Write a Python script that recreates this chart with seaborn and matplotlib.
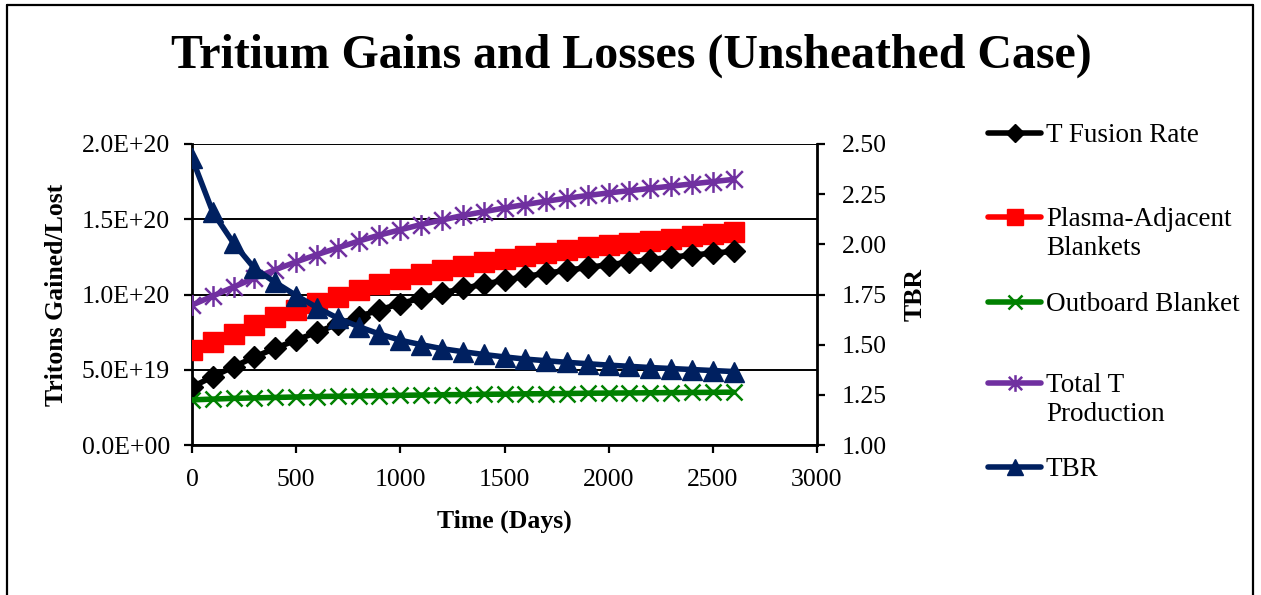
import matplotlib
matplotlib.use("Agg")
import matplotlib.pyplot as plt
from matplotlib.lines import Line2D
from matplotlib.path import Path
from matplotlib.ticker import FuncFormatter, FixedLocator
import seaborn as sns
import pandas as pd

# ---------------- data ----------------
days = [0, 100, 200, 300, 400, 500, 600, 700, 800, 900, 1000, 1100, 1200, 1300,
        1400, 1500, 1600, 1700, 1800, 1900, 2000, 2100, 2200, 2300, 2400, 2500, 2600]

t_fusion_rate = [0.385e20, 0.455e20, 0.52e20, 0.585e20, 0.643e20, 0.697e20, 0.75e20,
                 0.803e20, 0.853e20, 0.898e20, 0.94e20, 0.976e20, 1.01e20, 1.04e20,
                 1.068e20, 1.095e20, 1.12e20, 1.141e20, 1.161e20, 1.18e20, 1.198e20,
                 1.215e20, 1.232e20, 1.248e20, 1.262e20, 1.275e20, 1.287e20]

plasma_adjacent = [0.63e20, 0.685e20, 0.74e20, 0.797e20, 0.849e20, 0.898e20, 0.943e20,
                   0.986e20, 1.029e20, 1.067e20, 1.10e20, 1.133e20, 1.161e20, 1.19e20,
                   1.213e20, 1.237e20, 1.258e20, 1.279e20, 1.298e20, 1.314e20, 1.33e20,
                   1.344e20, 1.358e20, 1.372e20, 1.386e20, 1.40e20, 1.414e20]

outboard = [0.30e20, 0.305e20, 0.31e20, 0.313e20, 0.316e20, 0.319e20, 0.322e20,
            0.324e20, 0.326e20, 0.328e20, 0.33e20, 0.332e20, 0.334e20, 0.335e20,
            0.337e20, 0.338e20, 0.34e20, 0.341e20, 0.342e20, 0.344e20, 0.345e20,
            0.346e20, 0.347e20, 0.348e20, 0.349e20, 0.35e20, 0.351e20]

total_t = [0.93e20, 0.99e20, 1.05e20, 1.11e20, 1.165e20, 1.217e20, 1.265e20, 1.31e20,
           1.355e20, 1.395e20, 1.43e20, 1.465e20, 1.495e20, 1.525e20, 1.55e20,
           1.575e20, 1.598e20, 1.62e20, 1.64e20, 1.658e20, 1.675e20, 1.69e20,
           1.705e20, 1.72e20, 1.735e20, 1.75e20, 1.765e20]

tbr = [2.43, 2.16, 2.005, 1.88, 1.81, 1.745, 1.685, 1.632, 1.59, 1.553, 1.522, 1.50,
       1.48, 1.465, 1.451, 1.439, 1.428, 1.42, 1.412, 1.405, 1.398, 1.392, 1.386,
       1.381, 1.376, 1.371, 1.366]

series_names = ["T Fusion Rate", "Plasma-Adjacent\nBlankets", "Outboard Blanket",
                "Total T\nProduction", "TBR"]

x_ticks = [0, 500, 1000, 1500, 2000, 2500, 3000]
left_ticks = [0.0, 0.5e20, 1.0e20, 1.5e20, 2.0e20]
right_ticks = [1.00, 1.25, 1.50, 1.75, 2.00, 2.25, 2.50]

# ---------------- styling ----------------
sns.set_theme(style="white")
plt.rcParams["font.family"] = ["Liberation Serif", "DejaVu Serif"]
for k in ("text.color", "axes.labelcolor", "xtick.color", "ytick.color", "axes.edgecolor"):
    plt.rcParams[k] = "black"

W, H = 1261, 595
fig = plt.figure(figsize=(W / 100, H / 100), dpi=100)
fig.patch.set_facecolor("white")

def fx(px):
    return px / W

def fy(py):
    return 1 - py / H

ax = fig.add_axes([fx(192), fy(445), fx(817) - fx(192), fy(144) - fy(445)])
ax2 = ax.twinx()

# asterisk marker: X plus vertical line
star_path = Path([(-1, -1), (1, 1), (-1, 1), (1, -1), (0, -1.25), (0, 1.25)],
                 [Path.MOVETO, Path.LINETO, Path.MOVETO, Path.LINETO, Path.MOVETO, Path.LINETO])

colors = ["#000000", "#FF0000", "#008000", "#7030A0", "#002060"]
markers = ["D", "s", "x", star_path, "^"]
msizes = [11, 14, 12, 15, 15]
mews = [1, 1, 1.8, 1.8, 1]
lw = 4

df = pd.DataFrame({"day": days, "fus": t_fusion_rate, "pa": plasma_adjacent,
                   "ob": outboard, "tot": total_t, "tbr": tbr})

left_cols = ["fus", "pa", "ob", "tot"]
order_z = {"fus": 3, "pa": 2, "ob": 4, "tot": 1}
for i, col in enumerate(left_cols):
    sns.lineplot(data=df, x="day", y=col, ax=ax, color=colors[i], linewidth=lw,
                 marker=markers[i], markersize=msizes[i], markeredgewidth=mews[i],
                 markeredgecolor=colors[i], markerfacecolor=colors[i],
                 zorder=order_z[col] + 2, legend=False)

sns.lineplot(data=df, x="day", y="tbr", ax=ax2, color=colors[4], linewidth=lw,
             marker=markers[4], markersize=msizes[4], markeredgewidth=mews[4],
             markeredgecolor=colors[4], markerfacecolor=colors[4], legend=False)

# axes limits / ticks
ax.set_xlim(0, 3000)
ax.set_ylim(0, 2.0e20)
ax2.set_ylim(1.0, 2.5)
ax.xaxis.set_major_locator(FixedLocator(x_ticks))
ax.yaxis.set_major_locator(FixedLocator(left_ticks))
ax2.yaxis.set_major_locator(FixedLocator(right_ticks))
ax.yaxis.set_major_formatter(FuncFormatter(lambda v, p: f"{v:.1E}"))
ax2.yaxis.set_major_formatter(FuncFormatter(lambda v, p: f"{v:.2f}"))
ax.xaxis.set_major_formatter(FuncFormatter(lambda v, p: f"{int(v)}"))

fs = 18.5
ax.tick_params(axis="both", which="major", direction="out", length=6, width=1.6,
               color="black", labelsize=fs, labelcolor="black")
ax.tick_params(axis="y", pad=10, left=True)
ax.tick_params(axis="x", pad=11, bottom=True)
ax2.tick_params(axis="y", direction="out", length=6, width=1.6, color="black",
                labelsize=fs, labelcolor="black", pad=12, right=True)

ax.grid(True, axis="y", color="black", linewidth=1.4)
ax.grid(False, axis="x")
ax.set_axisbelow(True)
for a in (ax, ax2):
    a.spines["top"].set_visible(False)
    for s in ("left", "right", "bottom"):
        a.spines[s].set_color("black")
        a.spines[s].set_linewidth(2)
ax.spines["right"].set_visible(False)
ax2.spines["left"].set_visible(False)
ax2.spines["bottom"].set_visible(False)
ax.patch.set_alpha(0)

ax.set_xlabel("Time (Days)", fontsize=fs, fontweight="bold", labelpad=14)
ax.set_ylabel("Tritons Gained/Lost", fontsize=fs, fontweight="bold", labelpad=10)
ax2.set_ylabel("TBR", fontsize=fs, fontweight="bold", labelpad=12)

fig.text(fx(631), fy(56), "Tritium Gains and Losses (Unsheathed Case)",
         ha="center", va="center", fontsize=34.5, fontweight="bold")

# manual legend (Excel-like, handle beside the first line of each entry)
leg_y = [133, 217, 302, 383, 467]
for i in range(5):
    y = fy(leg_y[i])
    fig.add_artist(Line2D([fx(988), fx(1041)], [y, y], color=colors[i], linewidth=lw,
                          solid_capstyle="round", transform=fig.transFigure))
    fig.add_artist(Line2D([fx(1014.5)], [y], color=colors[i], marker=markers[i],
                          markersize=msizes[i] * 0.8, markeredgewidth=mews[i],
                          markerfacecolor=colors[i], markeredgecolor=colors[i],
                          linestyle="none", transform=fig.transFigure))
    fig.text(fx(1046), fy(leg_y[i] - 10), series_names[i], ha="left", va="top",
             fontsize=19.5, linespacing=1.2)

# figure frame
for xs, ys in [([fx(7), fx(7)], [0, fy(5)]), ([fx(1253), fx(1253)], [0, fy(5)]),
               ([fx(7), fx(1253)], [fy(5), fy(5)])]:
    fig.add_artist(Line2D(xs, ys, color="black", linewidth=1.6, transform=fig.transFigure))

fig.savefig("out.png", dpi=100, facecolor="white")
